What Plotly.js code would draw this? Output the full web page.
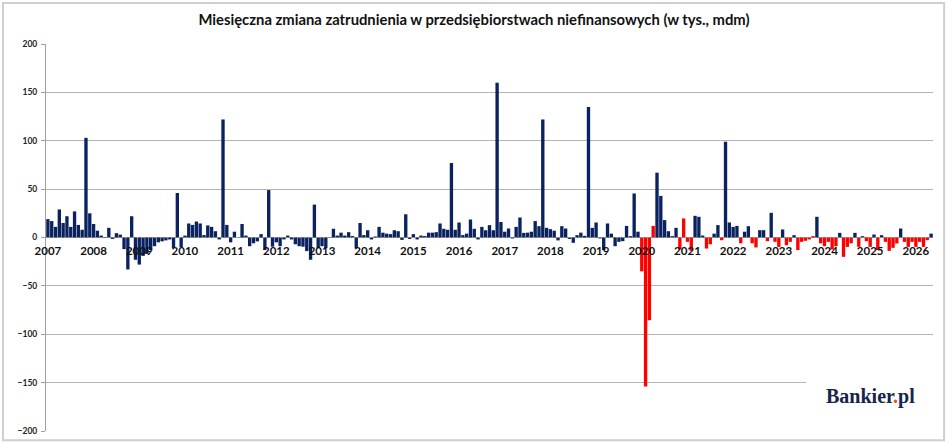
<!DOCTYPE html>
<html><head><meta charset="utf-8">
<script src="https://cdn.plot.ly/plotly-3.0.1.min.js"></script>
<style>html,body{margin:0;padding:0;background:#fff}#chart{width:948px;height:443px}</style>
</head><body><div id="chart"></div>
<script>
// Pierwszy miesiąc serii
const startRok = 2007, startMies = 3;

// Miesięczna zmiana zatrudnienia (tys.), od 2007-03
const zmiana = [
  19, 17, 11, 29, 15, 22, 11, 27, 13, 8, 103, 25,
  14, 7, 2, 0.5, 10, -1.5, 4.5, 3, -12, -33, 22, -23,
  -28, -19, -17, -13, -9, -5, -4, -3, -2, -11, 46, -10,
  2, 14.5, 13, 16.5, 14.5, 2.5, 12.5, 11, 6.5, -2, 122, 13,
  -5, 6, 0, 14, 2, -9, -6, -4, 3.5, -13, 49, -9.5,
  -5, -9, -2, 2, -2, -7, -9, -9.5, -14, -23, 34, -11,
  -9, -11, 0.5, 9, 2, 5, 2, 5.5, 1.5, -11, 15, 2.5,
  7.5, -2, 1, 11, 5, 4, 3.5, 7.5, 6.5, -2.5, 24, -1.5,
  3.5, -2, 2, 1.5, 5, 5, 5.5, 14.5, 9, 8, 77, 8,
  15.5, 2.5, 4, 18.6, 9, -2, 11, 7.5, 12.8, 7.5, 160, 16,
  6, 9.3, -1, 11, 20.7, 4.8, 5, 6, 17, 11.7, 122, 10,
  8.6, 7, -3, 11.7, 9.3, -1.5, -5.5, 2.4, 5, 1.7, 135, 10,
  15.5, -1, -13, 14.5, 4, -9, -4.5, -3.8, 12, 1.4, 45.5, 6,
  -35, -154, -85.5, 12, 67, 43, 18, 6.5, 1.4, 10, -12.4, 19.7,
  -4.5, -13.8, 22.4, 21.4, 2, -11.4, -7, 4, 12.8, -2.8, 99, 15.5,
  11, 12, -6, 6, 11.7, -6, -10.3, 7.6, 7.6, -3.8, 25.5, -4.5,
  -9.7, 8.3, -8, -4.5, 2.4, -13, -4.5, -3.4, -2, 1.5, 21.4, -6,
  -9, -4.5, -12.4, -9, 4.8, -20, -9.7, -6, 4.8, -9.7, 1.4, -3.8,
  -9.7, 3.1, -13, 2.4, -4.5, -13.8, -10.7, -6.2, 9.3, -4.5, -9.7, -4.5,
  -9.7, -4.5, -9.7, -2.7, 4
];

// Miesiące wyróżnione kolorem czerwonym
const czerwone = [
  '2020-03','2020-04','2020-05','2020-06',
  '2021-01','2021-02','2021-03','2021-04','2021-08','2021-09','2021-12',
  '2022-05','2022-08','2022-09','2022-12',
  '2023-02','2023-03','2023-05','2023-06','2023-08','2023-09','2023-10','2023-11','2023-12',
  '2024-02','2024-03','2024-04','2024-05','2024-06','2024-08','2024-09','2024-10','2024-12',
  '2025-02','2025-03','2025-05','2025-07','2025-08','2025-09','2025-10','2025-12',
  '2026-01','2026-02','2026-03','2026-04','2026-05','2026-06'
];

const lata = ['2007','2008','2009','2010','2011','2012','2013','2014','2015','2016',
              '2017','2018','2019','2020','2021','2022','2023','2024','2025','2026'];

const miesiace = zmiana.map((_, i) => {
  const m = startMies - 1 + i;
  return (startRok + Math.floor(m / 12)) + '-' + String(m % 12 + 1).padStart(2, '0');
});
const tickPos = lata.map(r => r + '-' + String(startMies).padStart(2, '0'));

const NAVY = '#0a2260', RED = '#ff0000';
const kolory = miesiace.map(m => czerwone.includes(m) ? RED : NAVY);

const trace = {
  type: 'bar', x: miesiace, y: zmiana,
  marker: { color: kolory, line: { width: 0 } },
  hoverinfo: 'x+y'
};

const layout = {
  width: 948, height: 443,
  margin: { l: 46, r: 15, t: 44, b: 12 },
  paper_bgcolor: '#fff', plot_bgcolor: '#fff',
  showlegend: false,
  bargap: 0.12,
  title: {
    text: 'Miesięczna zmiana zatrudnienia w przedsiębiorstwach niefinansowych (w tys., mdm)',
    font: { family: 'Lato, sans-serif', size: 14.8, weight: 'bold', color: '#111' },
    x: 0.5, xref: 'container', y: 1 - 19.5 / 443, yref: 'container', yanchor: 'middle'
  },
  xaxis: {
    type: 'category', range: [-0.5, zmiana.length - 0.5],
    anchor: 'free', position: 0.5,
    showgrid: false, showline: false, zeroline: false, ticks: '',
    tickvals: tickPos, ticktext: lata, tickangle: 0,
    ticklabelstandoff: 5,
    tickfont: { family: 'Lato, sans-serif', size: 11.5, weight: 'bold', color: '#111' },
    fixedrange: true
  },
  yaxis: {
    range: [-200, 200], dtick: 50, tick0: 0,
    showline: true, linecolor: '#a0a0a0', linewidth: 1,
    ticks: 'outside', ticklen: 4, tickcolor: '#a0a0a0',
    showgrid: true, gridcolor: '#b4b4b4', gridwidth: 1, zeroline: false,
    tickfont: { family: 'Lato, sans-serif', size: 8.5, weight: 'bold', color: '#222' },
    ticklabelstandoff: 2,
    fixedrange: true
  },
  shapes: [
    { type: 'line', xref: 'paper', yref: 'y', x0: 0, x1: 1, y0: 0, y1: 0,
      line: { color: '#8a8a8a', width: 1.2, dash: 'dot' }, layer: 'above' },
    { type: 'rect', xref: 'paper', yref: 'paper', x0: 0.857, x1: 1.01, y0: 0.03, y1: 0.17,
      fillcolor: '#fff', line: { width: 0 }, layer: 'above' },
    { type: 'rect', xref: 'paper', yref: 'paper', x0: -0.0485, x1: 1.0125, y0: -0.024, y1: 1.106,
      fillcolor: 'rgba(0,0,0,0)', line: { color: '#cfcfcf', width: 2 }, layer: 'above' }
  ],
  annotations: [
    { xref: 'paper', yref: 'paper', x: 0.93, y: 0.09, xanchor: 'center', yanchor: 'middle',
      showarrow: false,
      text: 'Bankier<span style="color:#e8541c">.</span>pl',
      font: { family: 'Liberation Serif, serif', size: 20, weight: 'bold', color: '#17254a' } }
  ]
};

Plotly.newPlot('chart', [trace], layout, { displayModeBar: false, staticPlot: true });
</script>
</body></html>
